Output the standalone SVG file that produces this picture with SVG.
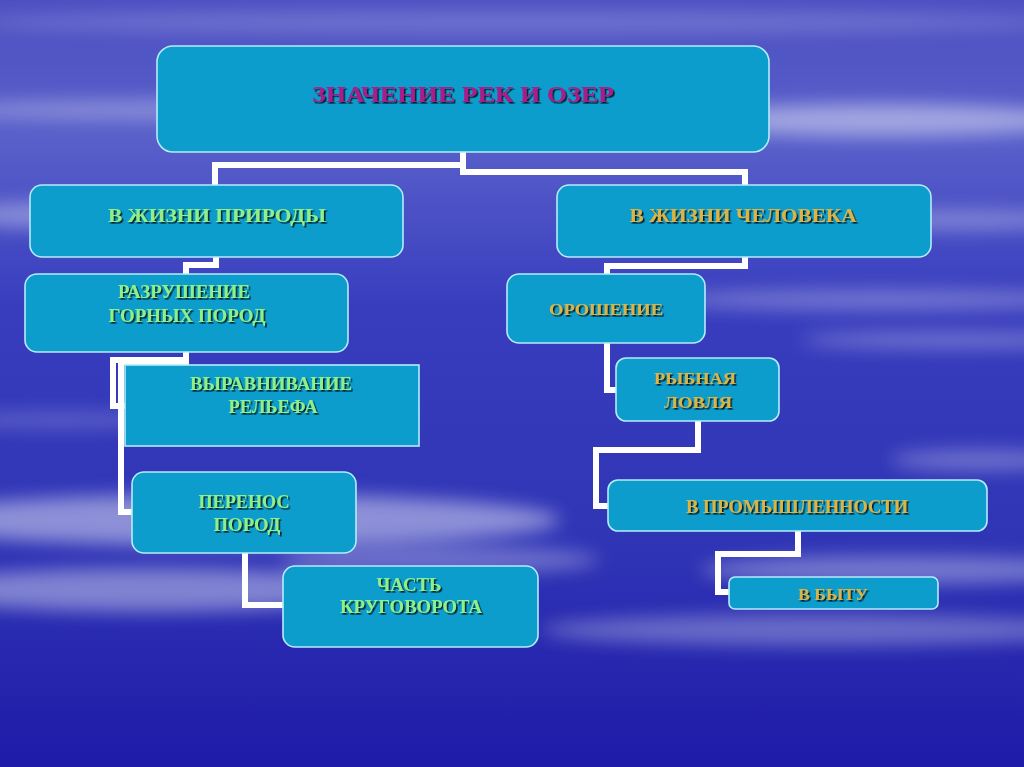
<svg xmlns="http://www.w3.org/2000/svg" width="1024" height="767" viewBox="0 0 1024 767">
<defs>
<linearGradient id="bg" x1="0" y1="0" x2="0" y2="1">
<stop offset="0" stop-color="#4c4fc2"/>
<stop offset="0.18" stop-color="#5960ca"/>
<stop offset="0.4" stop-color="#383dbe"/>
<stop offset="0.7" stop-color="#3035b6"/>
<stop offset="1" stop-color="#1e1ba8"/>
</linearGradient>
<filter id="blur" x="-20%" y="-100%" width="140%" height="300%"><feGaussianBlur stdDeviation="9"/></filter>
<filter id="sh" x="-5%" y="-30%" width="110%" height="160%"><feDropShadow dx="1.6" dy="1.6" stdDeviation="0.3" flood-color="#06202e" flood-opacity="1"/></filter>
<style>
.box{fill:#0d9dcc;stroke:#b4ecfa;stroke-width:1.6}
.t{font-family:"Liberation Serif","Times New Roman",serif;font-weight:bold;text-anchor:middle;filter:url(#sh)}
.g{fill:#8ef08a;font-size:19px}
.y{fill:#dab447;font-size:18px}
.s{font-size:17px}
.m{fill:#a91f8e;font-size:24px}
.c{fill:none;stroke:#ffffff;stroke-width:6;stroke-linejoin:miter}
</style>
</defs>
<rect width="1024" height="767" fill="url(#bg)"/>
<g id="clouds" filter="url(#blur)" fill="#ffffff">
<ellipse cx="520" cy="22" rx="560" ry="12" opacity="0.18"/>
<ellipse cx="150" cy="110" rx="220" ry="10" opacity="0.3"/>
<ellipse cx="880" cy="120" rx="200" ry="16" opacity="0.45"/>
<ellipse cx="100" cy="215" rx="160" ry="14" opacity="0.35"/>
<ellipse cx="960" cy="220" rx="120" ry="10" opacity="0.3"/>
<ellipse cx="880" cy="300" rx="220" ry="10" opacity="0.3"/>
<ellipse cx="950" cy="340" rx="150" ry="8" opacity="0.3"/>
<ellipse cx="60" cy="420" rx="120" ry="8" opacity="0.2"/>
<ellipse cx="230" cy="520" rx="330" ry="26" opacity="0.45"/>
<ellipse cx="150" cy="590" rx="240" ry="22" opacity="0.4"/>
<ellipse cx="440" cy="560" rx="160" ry="14" opacity="0.3"/>
<ellipse cx="900" cy="570" rx="200" ry="14" opacity="0.35"/>
<ellipse cx="820" cy="630" rx="280" ry="16" opacity="0.3"/>
<ellipse cx="980" cy="460" rx="90" ry="10" opacity="0.3"/>
</g>
<g id="connectors">
<path class="c" d="M463 152 V165 H215 V185"/>
<path class="c" d="M463 152 V172 H745 V185"/>
<path class="c" d="M216 257 V265 H186 V275"/>
<path class="c" d="M186 352 V360 H113 V406 H125"/>
<path class="c" d="M186 352 V362 H121 V512 H133"/>
<path class="c" d="M245 553 V605 H284"/>
<path class="c" d="M745 257 V266 H607 V275"/>
<path class="c" d="M607 343 V390 H617"/>
<path class="c" d="M698 421 V450 H596 V506 H609"/>
<path class="c" d="M798 531 V554 H718 V592 H730"/>
</g>
<g id="n-root"><rect class="box" x="157" y="46" width="612" height="106" rx="16"/><text class="t m" x="463" y="102" textLength="302" lengthAdjust="spacingAndGlyphs">ЗНАЧЕНИЕ РЕК И ОЗЕР</text></g>
<g id="n-nature"><rect class="box" x="30" y="185" width="373" height="72" rx="12"/><text class="t g" x="217" y="222" textLength="218" lengthAdjust="spacingAndGlyphs">В ЖИЗНИ ПРИРОДЫ</text></g>
<g id="n-human"><rect class="box" x="557" y="185" width="374" height="72" rx="12"/><text class="t y" x="743" y="222" textLength="227" lengthAdjust="spacingAndGlyphs">В ЖИЗНИ ЧЕЛОВЕКА</text></g>
<g id="n-razr"><rect class="box" x="25" y="274" width="323" height="78" rx="12"/><text class="t g" x="184" y="298" textLength="132" lengthAdjust="spacingAndGlyphs">РАЗРУШЕНИЕ</text><text class="t g" x="187" y="322" textLength="157" lengthAdjust="spacingAndGlyphs">ГОРНЫХ ПОРОД</text></g>
<g id="n-vyr"><rect class="box" x="125" y="365" width="294" height="81"/><text class="t g" x="271" y="390" textLength="162" lengthAdjust="spacingAndGlyphs">ВЫРАВНИВАНИЕ</text><text class="t g" x="273" y="413" textLength="89" lengthAdjust="spacingAndGlyphs">РЕЛЬЕФА</text></g>
<g id="n-perenos"><rect class="box" x="132" y="472" width="224" height="81" rx="12"/><text class="t g" x="244" y="508" textLength="91" lengthAdjust="spacingAndGlyphs">ПЕРЕНОС</text><text class="t g" x="247" y="531" textLength="67" lengthAdjust="spacingAndGlyphs">ПОРОД</text></g>
<g id="n-chast"><rect class="box" x="283" y="566" width="255" height="81" rx="12"/><text class="t g" x="409" y="591" textLength="65" lengthAdjust="spacingAndGlyphs">ЧАСТЬ</text><text class="t g" x="411" y="613" textLength="142" lengthAdjust="spacingAndGlyphs">КРУГОВОРОТА</text></g>
<g id="n-orosh"><rect class="box" x="507" y="274" width="198" height="69" rx="12"/><text class="t y s" x="606" y="315" textLength="114" lengthAdjust="spacingAndGlyphs">ОРОШЕНИЕ</text></g>
<g id="n-ryb"><rect class="box" x="616" y="358" width="163" height="63" rx="10"/><text class="t y s" x="695" y="384" textLength="82" lengthAdjust="spacingAndGlyphs">РЫБНАЯ</text><text class="t y s" x="698" y="408" textLength="68" lengthAdjust="spacingAndGlyphs">ЛОВЛЯ</text></g>
<g id="n-prom"><rect class="box" x="608" y="480" width="379" height="51" rx="10"/><text class="t y" x="797" y="513" textLength="222" lengthAdjust="spacingAndGlyphs">В ПРОМЫШЛЕННОСТИ</text></g>
<g id="n-byt"><rect class="box" x="729" y="577" width="209" height="32" rx="6"/><text class="t y s" x="833" y="600" textLength="70" lengthAdjust="spacingAndGlyphs">В БЫТУ</text></g>
</svg>
